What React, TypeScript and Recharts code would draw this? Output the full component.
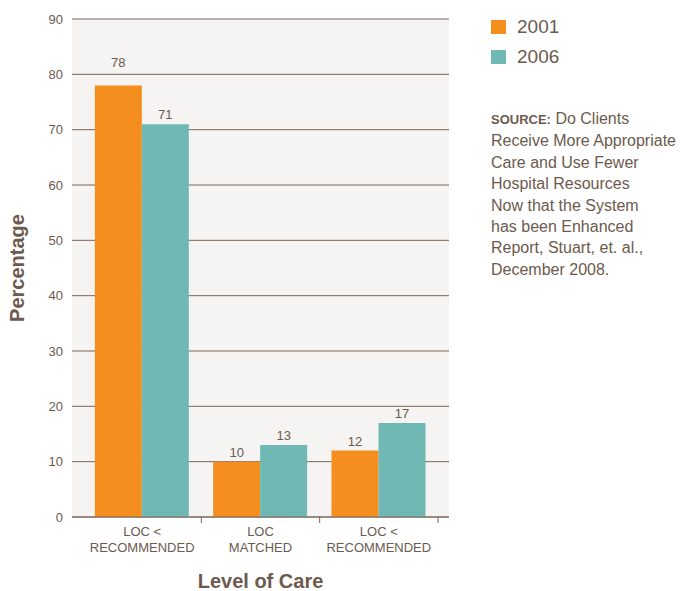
import { BarChart, Bar, XAxis, YAxis, CartesianGrid, LabelList, Label } from 'recharts'

const categories = ['LOC <|RECOMMENDED', 'LOC|MATCHED', 'LOC <|RECOMMENDED']
const values2001 = [78, 10, 12]
const values2006 = [71, 13, 17]
const yTicks = [0, 10, 20, 30, 40, 50, 60, 70, 80, 90]
const sourceLines = [
    'Receive More Appropriate',
    'Care and Use Fewer',
    'Hospital Resources',
    'Now that the System',
    'has been Enhanced',
    'Report, Stuart, et. al.,',
    'December 2008.',
]

const data = categories.map((c, i) => ({ cat: c, id: i, y2001: values2001[i], y2006: values2006[i] }))

const TEXT = '#6D5A4E'
const GRID = '#7B655A'
const ORANGE = '#F48E1F'
const TEAL = '#6FB8B4'
const FONT = '"Liberation Sans", Arial, sans-serif'

// plot area
const LEFT = 72
const RIGHT = 449
const PAD = 11
const HALF_BAND = (RIGHT - LEFT - 2 * PAD) / 3 / 2

const XTick = (props: any) => {
    const { x, y, payload } = props
    const lines = String(categories[payload.value] ?? '').split('|')
    return (
        <g>
            <line x1={x + HALF_BAND} x2={x + HALF_BAND} y1={y} y2={y + 6} stroke={GRID} strokeWidth={1} />
            {lines.map((l: string, i: number) => (
                <text key={i} x={x} y={y + 19 + i * 15.5} textAnchor='middle' fill={TEXT} fontSize={13} fontFamily={FONT}>{l}</text>
            ))}
        </g>
    )
}

// lift labels that would collide with a gridline
const BarLabel = (props: any) => {
    const { x, y, width, value } = props
    const lift = value % 10 >= 8 ? 13 : 0
    return (
        <text x={x + width / 2} y={y - 5 - lift} textAnchor='middle' fill={TEXT} fontSize={13} fontFamily={FONT}>{value}</text>
    )
}

const App = () => {
    return (
        <div style={{ position: 'absolute', left: 0, top: 0, width: 684, height: 591, fontFamily: FONT, background: '#fff' }}>
            <BarChart width={684} height={591} data={data} margin={{ top: 19, right: 684 - RIGHT, bottom: 0, left: 0 }} barCategoryGap='10%' barGap={0}>
                <CartesianGrid vertical={false} stroke={GRID} fill='#F5F4F2' horizontalValues={yTicks} />
                <XAxis dataKey='id' height={74} padding={{ left: PAD, right: PAD }} tickLine={false} tickSize={0} tickMargin={0} stroke={GRID} axisLine={{ stroke: GRID }} tick={<XTick />} interval={0}>
                    <Label content={(p: any) => {
                        const vb = p.viewBox
                        return <text x={vb.x + vb.width / 2} y={588} textAnchor='middle' fill={TEXT} fontSize={20} fontWeight='bold' fontFamily={FONT}>Level of Care</text>
                    }} />
                </XAxis>
                <YAxis width={LEFT} domain={[0, 90]} ticks={yTicks} axisLine={false} tickLine={false} tickSize={0} tickMargin={9} tick={{ fill: TEXT, fontSize: 13, fontFamily: FONT }}>
                    <Label content={(p: any) => {
                        const vb = p.viewBox
                        const cy = vb.y + vb.height / 2
                        return <text x={24} y={cy} transform={`rotate(-90 24 ${cy})`} textAnchor='middle' fill={TEXT} fontSize={20} fontWeight='bold' fontFamily={FONT}>Percentage</text>
                    }} />
                </YAxis>
                <Bar dataKey='y2001' fill={ORANGE} isAnimationActive={false}>
                    <LabelList dataKey='y2001' content={<BarLabel />} />
                </Bar>
                <Bar dataKey='y2006' fill={TEAL} isAnimationActive={false}>
                    <LabelList dataKey='y2006' content={<BarLabel />} />
                </Bar>
            </BarChart>
            <div style={{ position: 'absolute', left: 491, top: 20, display: 'flex', alignItems: 'center', height: 14 }}>
                <div style={{ width: 15, height: 14, background: ORANGE }} />
                <span style={{ marginLeft: 11, fontSize: 19, color: TEXT }}>2001</span>
            </div>
            <div style={{ position: 'absolute', left: 491, top: 50, display: 'flex', alignItems: 'center', height: 14 }}>
                <div style={{ width: 15, height: 14, background: TEAL }} />
                <span style={{ marginLeft: 11, fontSize: 19, color: TEXT }}>2006</span>
            </div>
            <div style={{ position: 'absolute', left: 491, top: 108, fontSize: 16, lineHeight: '21.4px', color: TEXT, whiteSpace: 'nowrap' }}>
                <span style={{ fontWeight: 'bold', fontSize: 13 }}>SOURCE:</span> Do Clients
                {sourceLines.map((l, i) => <div key={i}>{l}</div>)}
            </div>
        </div>
    )
}

export default App
